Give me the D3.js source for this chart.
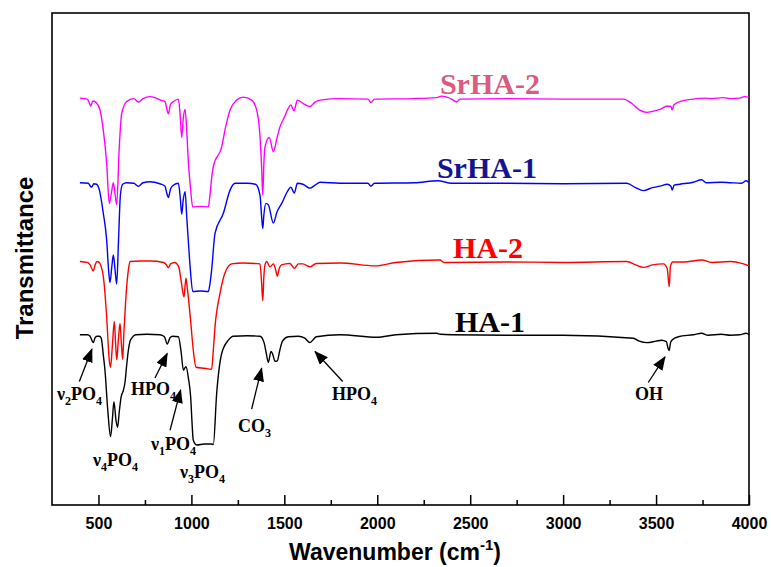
<!DOCTYPE html>
<html>
<head>
<meta charset="utf-8">
<script src="https://cdn.jsdelivr.net/npm/d3@7"></script>
<style>
  body { margin: 0; background: #fff; }
  svg { display: block; }
</style>
</head>
<body>
<svg id="chart"></svg>
<script>
const width = 771, height = 567;

// spectra: [wavenumber, transmittance (offset, a.u.)]
const ha1 = [[400,34.6],[440,34.6],[455,34.3],[472,33.0],[482,34.0],[492,34.3],[505,34.3],[515,33.9],[526,30.5],[535,27.4],[550,19.3],[565,13.9],[575,17.5],[583,21.0],[595,17.0],[603,15.8],[612,19.0],[622,22.0],[633,23.2],[643,25.0],[652,28.5],[661,31.5],[670,33.3],[679,33.9],[700,34.6],[760,34.7],[831,34.6],[855,34.2],[870,32.7],[885,34.0],[899,34.3],[930,34.2],[945,31.0],[957,27.4],[964,27.8],[971,28.1],[985,25.5],[996,22.0],[1003,17.0],[1010,13.2],[1028,12.2],[1070,12.4],[1109,12.4],[1118,12.3],[1136,22.7],[1163,30.8],[1199,33.5],[1225,34.3],[1300,34.4],[1369,34.3],[1391,33.0],[1402,31.0],[1414,29.0],[1428,31.2],[1436,30.8],[1450,29.2],[1462,29.3],[1476,31.5],[1490,33.3],[1521,34.2],[1575,34.3],[1610,33.9],[1638,33.0],[1655,33.6],[1672,34.2],[1800,34.6],[1997,34.1],[2100,34.6],[2320,34.9],[2340,34.7],[2400,34.6],[2700,34.5],[3000,34.5],[3378,33.9],[3410,33.3],[3450,33.0],[3500,33.3],[3530,33.5],[3555,33.2],[3565,31.8],[3570,31.4],[3578,33.0],[3585,33.5],[3620,34.2],[3700,34.6],[3745,34.9],[3780,34.5],[3850,34.7],[3900,34.5],[3950,34.6],[3985,34.9],[4000,34.6]];

const ha2 = [[400,49.5],[440,49.3],[455,48.8],[472,47.6],[482,48.8],[492,49.5],[505,49.3],[515,48.4],[526,46.5],[544,38.3],[558,29.5],[565,28.0],[575,32.5],[585,37.3],[592,33.0],[598,29.5],[607,33.5],[616,36.9],[623,33.0],[630,29.6],[637,35.2],[645,40.5],[652,44.5],[661,47.8],[670,49.5],[720,49.6],[777,49.6],[850,49.3],[866,48.8],[876,48.2],[888,49.0],[910,49.3],[932,48.4],[945,45.5],[960,42.3],[966,44.5],[971,46.1],[978,44.0],[985,41.7],[998,36.5],[1010,31.5],[1025,28.0],[1070,27.8],[1109,27.6],[1118,31.5],[1127,36.2],[1154,43.0],[1180,47.1],[1217,49.0],[1279,49.2],[1369,49.0],[1378,45.0],[1384,41.5],[1390,46.5],[1396,48.8],[1405,49.5],[1423,48.4],[1441,49.0],[1452,48.0],[1462,46.5],[1472,48.0],[1485,48.8],[1530,49.1],[1554,48.1],[1575,49.0],[1600,49.0],[1638,48.4],[1672,49.1],[1800,49.2],[1988,48.6],[2100,49.3],[2337,49.8],[2360,49.3],[2700,49.4],[3000,49.3],[3342,49.5],[3390,48.8],[3432,48.3],[3480,48.8],[3540,49.0],[3560,48.0],[3571,44.4],[3577,48.5],[3590,49.4],[3650,49.4],[3745,49.8],[3800,49.3],[3900,49.5],[3970,49.0],[4000,48.6]];

const srha1 = [[400,65.5],[445,65.4],[455,64.9],[463,64.6],[475,65.3],[490,65.2],[505,64.0],[526,59.3],[544,53.9],[555,47.5],[562,45.2],[572,48.5],[580,50.8],[590,47.5],[598,44.9],[608,53.9],[618,63.0],[630,65.2],[652,65.5],[690,65.4],[714,64.8],[740,65.5],[777,65.7],[830,65.3],[858,64.8],[868,63.3],[876,62.5],[888,64.3],[903,65.0],[930,65.4],[940,62.5],[948,59.1],[956,62.0],[966,63.7],[975,58.5],[983,53.9],[995,47.5],[1007,43.4],[1050,43.5],[1091,43.4],[1100,45.0],[1109,47.8],[1127,55.2],[1172,59.3],[1208,64.0],[1235,65.4],[1300,65.4],[1345,65.2],[1369,63.0],[1378,58.5],[1384,56.2],[1390,59.0],[1401,61.3],[1414,61.0],[1441,57.3],[1460,59.5],[1486,61.3],[1521,64.0],[1535,64.6],[1554,63.4],[1570,65.4],[1600,65.2],[1638,64.4],[1665,65.0],[1692,65.6],[1800,65.4],[1950,65.4],[1965,64.8],[1985,65.4],[2200,65.5],[2327,65.9],[2400,65.4],[2700,65.4],[3000,65.3],[3342,65.4],[3390,64.5],[3432,63.9],[3480,64.5],[3521,64.8],[3560,65.2],[3580,64.8],[3587,64.0],[3597,65.0],[3629,65.2],[3700,65.6],[3745,66.1],[3770,65.5],[3850,65.6],[3900,65.5],[3960,65.4],[3985,65.9],[4000,65.5]];

const srha2 = [[400,82.7],[440,82.5],[450,81.8],[458,81.1],[470,82.1],[490,81.7],[508,80.3],[526,76.2],[544,69.5],[558,61.3],[570,63.5],[580,65.5],[590,63.0],[598,61.0],[612,72.8],[625,79.6],[652,82.0],[690,82.6],[714,81.9],[740,82.6],[777,83.0],[810,82.7],[840,82.2],[858,82.0],[868,80.5],[876,79.5],[888,81.5],[903,82.0],[930,82.5],[940,79.0],[948,74.7],[956,78.5],[966,80.4],[975,76.0],[983,70.1],[995,64.5],[1007,60.6],[1050,60.7],[1091,60.6],[1100,63.0],[1110,66.8],[1118,68.8],[1163,72.8],[1185,77.0],[1208,80.3],[1244,82.3],[1279,82.9],[1324,82.3],[1351,80.3],[1369,74.9],[1378,68.5],[1384,63.0],[1390,69.5],[1396,72.8],[1419,74.7],[1441,71.8],[1460,74.5],[1477,76.9],[1500,78.8],[1521,80.6],[1535,81.3],[1552,80.1],[1570,82.3],[1602,81.6],[1638,81.0],[1665,81.9],[1692,82.3],[1800,82.6],[1950,82.5],[1966,81.8],[1985,82.5],[2200,82.6],[2320,82.8],[2346,83.1],[2400,82.5],[2427,81.9],[2445,82.5],[2700,82.6],[3000,82.5],[3324,82.5],[3370,81.6],[3410,80.3],[3450,79.8],[3490,80.1],[3521,80.4],[3560,81.1],[3580,81.0],[3587,80.3],[3595,81.3],[3629,82.0],[3700,82.5],[3760,82.7],[3800,82.6],[3860,82.8],[3900,82.6],[3950,82.7],[3975,83.0],[4000,82.9]];

const seriesNames = ["HA-1", "HA-2", "SrHA-1", "SrHA-2"];
const seriesData = [ha1, ha2, srha1, srha2];
const lineColors = ["#000000", "#ff0000", "#0000ff", "#ff00ff"];
const labelColors = ["#000000", "#ff0000", "#141490", "#d85c82"];
// label anchor [wavenumber, value]
const labelPos = [[2418, 35.2], [2407, 50.2], [2321, 66.5], [2337, 83.5]];

const majorTicks = [500, 1000, 1500, 2000, 2500, 3000, 3500, 4000];
const minorTicks = [750, 1250, 1750, 2250, 2750, 3250, 3750];

// peak annotations: text parts [text, isSubscript], label anchor, arrow tail -> tip (null = no arrow)
const annotations = [
  { parts: [["ν", false], ["2", true], ["PO", false], ["4", true]], at: [277, 21.3], arrow: [[397, 25.1], [465, 31.7]] },
  { parts: [["ν", false], ["4", true], ["PO", false], ["4", true]], at: [471, 7.9], arrow: null },
  { parts: [["HPO", false], ["4", true]], at: [675, 22.4], arrow: [[804, 25.8], [870, 30.8]] },
  { parts: [["ν", false], ["1", true], ["PO", false], ["4", true]], at: [783, 11.2], arrow: [[885, 15.2], [942, 23.4]] },
  { parts: [["ν", false], ["3", true], ["PO", false], ["4", true]], at: [939, 5.5], arrow: null },
  { parts: [["CO", false], ["3", true]], at: [1251, 14.8], arrow: [[1324, 19.5], [1378, 27.8]] },
  { parts: [["HPO", false], ["4", true]], at: [1756, 21.3], arrow: [[1814, 25.1], [1665, 31.2]] },
  { parts: [["OH", false]], at: [3387, 21.3], arrow: [[3458, 24.9], [3548, 30.1]] }
];

const svg = d3.select("#chart").attr("width", width).attr("height", height);

const x = d3.scaleLinear().domain([250, 4000]).range([52, 749]);
const y = d3.scaleLinear().domain([0, 100]).range([505, 13]);

svg.append("defs").append("marker")
    .attr("id", "head")
    .attr("markerUnits", "userSpaceOnUse")
    .attr("markerWidth", 14).attr("markerHeight", 11)
    .attr("refX", 13).attr("refY", 5.5)
    .attr("orient", "auto")
  .append("path")
    .attr("d", "M0,0 L14,5.5 L0,11 Z")
    .attr("fill", "#000");

// axes (ticks point inward)
const xAxis = svg.append("g")
    .attr("transform", "translate(0,505)")
    .call(d3.axisBottom(x).tickValues(majorTicks).tickSize(-10).tickPadding(13).tickFormat(d3.format("d")));
xAxis.select(".domain").remove();
xAxis.selectAll("line").attr("stroke", "#000").attr("stroke-width", 1.5);
xAxis.selectAll("text")
    .attr("font-family", "Liberation Sans, Arial, sans-serif")
    .attr("font-weight", "bold")
    .attr("font-size", 16)
    .attr("fill", "#000");

const xMinor = svg.append("g")
    .attr("transform", "translate(0,505)")
    .call(d3.axisBottom(x).tickValues(minorTicks).tickSize(-5).tickFormat(""));
xMinor.select(".domain").remove();
xMinor.selectAll("line").attr("stroke", "#000").attr("stroke-width", 1.5);

// frame
svg.append("rect")
    .attr("x", x(250)).attr("y", y(100))
    .attr("width", x(4000) - x(250)).attr("height", y(0) - y(100))
    .attr("fill", "none").attr("stroke", "#000").attr("stroke-width", 1.6);

// spectra
const line = d3.line()
    .x(d => x(d[0]))
    .y(d => y(d[1]))
    .curve(d3.curveMonotoneX);

svg.append("g").selectAll("path")
    .data(seriesData)
    .join("path")
    .attr("d", line)
    .attr("fill", "none")
    .attr("stroke", (d, i) => lineColors[i])
    .attr("stroke-width", 1.4);

// series labels
svg.append("g").selectAll("text")
    .data(seriesNames)
    .join("text")
    .attr("x", (d, i) => x(labelPos[i][0]))
    .attr("y", (d, i) => y(labelPos[i][1]))
    .attr("font-family", "Liberation Serif, Times New Roman, serif")
    .attr("font-weight", "bold")
    .attr("font-size", 30)
    .attr("fill", (d, i) => labelColors[i])
    .text(d => d);

// annotations
const ann = svg.append("g");
annotations.forEach(a => {
  if (a.arrow) {
    ann.append("line")
        .attr("x1", x(a.arrow[0][0])).attr("y1", y(a.arrow[0][1]))
        .attr("x2", x(a.arrow[1][0])).attr("y2", y(a.arrow[1][1]))
        .attr("stroke", "#000").attr("stroke-width", 1.3)
        .attr("marker-end", "url(#head)");
  }
  const t = ann.append("text")
      .attr("x", x(a.at[0])).attr("y", y(a.at[1]))
      .attr("font-family", "Liberation Serif, Times New Roman, serif")
      .attr("font-weight", "bold")
      .attr("font-size", 18)
      .attr("fill", "#000");
  let down = false;
  a.parts.forEach(p => {
    const s = t.append("tspan").text(p[0]);
    if (p[1]) { s.attr("font-size", 12).attr("dy", down ? 0 : 5); down = true; }
    else { s.attr("dy", down ? -5 : 0); down = false; }
  });
});

// axis titles
svg.append("text")
    .attr("x", 395).attr("y", 560)
    .attr("text-anchor", "middle")
    .attr("font-family", "Liberation Sans, Arial, sans-serif")
    .attr("font-weight", "bold")
    .attr("font-size", 23)
    .text("Wavenumber (cm")
  .call(t => {
    t.append("tspan").attr("font-size", 15).attr("dy", -10).text("-1");
    t.append("tspan").attr("dy", 10).text(")");
  });

svg.append("text")
    .attr("transform", "translate(33,258) rotate(-90)")
    .attr("text-anchor", "middle")
    .attr("font-family", "Liberation Sans, Arial, sans-serif")
    .attr("font-weight", "bold")
    .attr("font-size", 24)
    .text("Transmittance");
</script>
</body>
</html>
